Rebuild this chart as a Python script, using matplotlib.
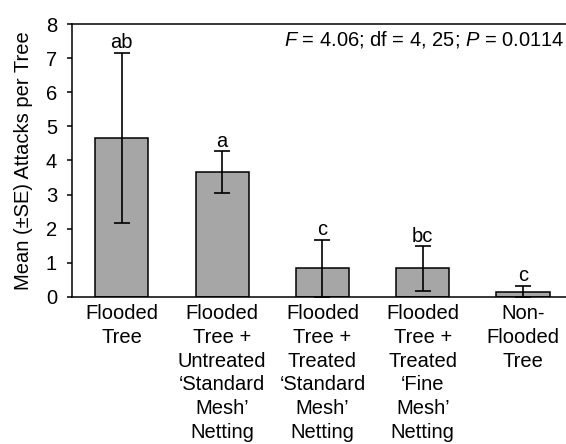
import matplotlib
matplotlib.use("Agg")
import matplotlib.pyplot as plt
import numpy as np

plt.rcParams['font.family'] = ['Liberation Sans', 'DejaVu Sans']
plt.rcParams['mathtext.fontset'] = 'custom'
plt.rcParams['mathtext.it'] = 'Liberation Sans:italic'
plt.rcParams['mathtext.rm'] = 'Liberation Sans'

categories = ["Flooded\nTree",
              "Flooded\nTree +\nUntreated\n\u2018Standard\nMesh\u2019\nNetting",
              "Flooded\nTree +\nTreated\n\u2018Standard\nMesh\u2019\nNetting",
              "Flooded\nTree +\nTreated\n\u2018Fine\nMesh\u2019\nNetting",
              "Non-\nFlooded\nTree"]
means = [4.67, 3.67, 0.83, 0.83, 0.15]
se = [2.50, 0.61, 0.84, 0.65, 0.17]
letters = ["ab", "a", "c", "bc", "c"]
yticks = [0, 1, 2, 3, 4, 5, 6, 7, 8]
stats_text = r"$\it{F}$ = 4.06; df = 4, 25; $\it{P}$ = 0.0114"
ylabel = "Mean (\u00b1SE) Attacks per Tree"

FS = 14.5
W, H = 566, 444
fig = plt.figure(figsize=(W / 100, H / 100), dpi=100)
left = 71.7 / W
right = 573.2 / W
bottom = (H - 296.7) / H
top = (H - 24.3) / H
ax = fig.add_axes([left, bottom, right - left, top - bottom])

x = np.arange(len(categories))
ax.bar(x, means, width=0.53, color='#A6A6A6', edgecolor='black', linewidth=1.1, zorder=2)
ax.errorbar(x, means, yerr=se, fmt='none', ecolor='black', elinewidth=1.2,
            capsize=5.5, capthick=1.2, zorder=3)

for xi, m, s, lab in zip(x, means, se, letters):
    ax.annotate(lab, xy=(xi, m + s), xytext=(0, 3.2), textcoords='offset points',
                ha='center', va='baseline', fontsize=FS)

ax.set_xlim(-0.5, 4.5)
ax.set_ylim(0, 8)
ax.set_yticks(yticks)
ax.set_xticks(x)
ax.set_xticklabels(categories, fontsize=FS, linespacing=1.33)
ax.tick_params(axis='x', length=0, pad=5.0)
ax.tick_params(axis='y', direction='out', length=3.6, width=1.1, labelsize=FS, pad=7)
for sp in ax.spines.values():
    sp.set_linewidth(1.1)
ax.set_ylabel(ylabel, fontsize=FS, labelpad=9)

fig.text(565 / W, (H - 45) / H, stats_text, ha='right', va='baseline', fontsize=FS)

fig.savefig("out.png", dpi=100)
